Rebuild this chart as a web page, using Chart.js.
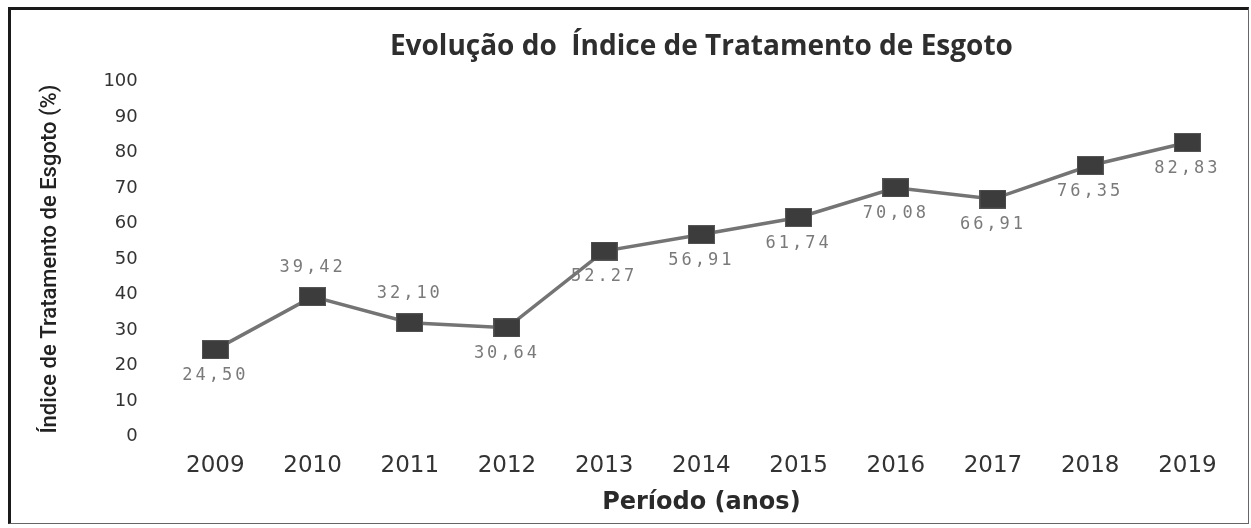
<!DOCTYPE html>
<html>
<head>
<meta charset="utf-8">
<script src="https://cdn.jsdelivr.net/npm/chart.js@4/dist/chart.umd.min.js"></script>
<style>
  body { margin: 0; background: #fff; }
  #wrap { position: relative; width: 1251px; height: 528px; }
  #moldura {
    position: absolute; left: 8px; top: 7px; width: 1237px; height: 513px;
    border-left: 3px solid #1a1a1a; border-top: 3px solid #1a1a1a;
    border-right: 1px solid #666; border-bottom: 1px solid #666;
    pointer-events: none;
  }
</style>
</head>
<body>
<div id="wrap">
  <canvas id="grafico" width="1251" height="528"></canvas>
  <div id="moldura"></div>
</div>
<script>
// dados
const anos = ['2009', '2010', '2011', '2012', '2013', '2014', '2015', '2016', '2017', '2018', '2019'];
const indice = [24.50, 39.42, 32.10, 30.64, 52.27, 56.91, 61.74, 70.08, 66.91, 76.35, 82.83];
const rotulos = ['24,50', '39,42', '32,10', '30,64', '52.27', '56,91', '61,74', '70,08', '66,91', '76,35', '82,83'];
const ticksY = [0, 10, 20, 30, 40, 50, 60, 70, 80, 90, 100];

// onde fica cada rótulo (em cima ou embaixo do ponto)
const lado = ['baixo', 'cima', 'cima', 'baixo', 'baixo', 'baixo', 'baixo', 'baixo', 'baixo', 'baixo', 'baixo'];

// marcador retangular (mais largo que alto, como no original)
const marcador = document.createElement('canvas');
marcador.width = 27;
marcador.height = 19;
const mctx = marcador.getContext('2d');
mctx.fillStyle = '#3c3c3c';
mctx.fillRect(0, 0, 27, 19);
mctx.strokeStyle = '#555';
mctx.lineWidth = 1;
mctx.strokeRect(0.5, 0.5, 26, 18);

// plugin simples para escrever os valores perto dos pontos
const rotuloPlugin = {
    id: 'rotulos',
    afterDatasetsDraw(chart) {
        const ctx = chart.ctx;
        const meta = chart.getDatasetMeta(0);
        ctx.save();
        ctx.font = '17px "DejaVu Sans Mono"';
        ctx.letterSpacing = '3px';
        ctx.fillStyle = '#7a7a7a';
        ctx.textAlign = 'center';
        ctx.textBaseline = 'middle';
        meta.data.forEach((pt, i) => {
            const dy = lado[i] === 'cima' ? -29 : 26;
            ctx.fillText(rotulos[i], pt.x, pt.y + dy);
        });
        ctx.restore();
    }
};

const ctx = document.getElementById('grafico').getContext('2d');

const grafico = new Chart(ctx, {
    type: 'line',
    data: {
        labels: anos,
        datasets: [{
            data: indice,
            borderColor: '#747474',
            borderWidth: 3.5,
            pointStyle: marcador,
            pointRadius: 11,
            tension: 0
        }]
    },
    plugins: [rotuloPlugin],
    options: {
        responsive: false,
        animation: false,
        layout: { padding: { left: 33, right: 15, top: 30, bottom: 9 } },
        plugins: {
            legend: { display: false },
            tooltip: { enabled: false },
            title: {
                display: true,
                fullSize: false,
                text: 'Evolução do  Índice de Tratamento de Esgoto',
                color: '#2e2e2e',
                font: { family: '"Open Sans"', size: 28, weight: 'bold' },
                padding: { top: 0, bottom: 18 }
            }
        },
        scales: {
            x: {
                offset: true,
                grid: { display: false },
                border: { display: false },
                ticks: { color: '#333', font: { family: '"DejaVu Sans"', size: 23 }, padding: 8 },
                title: {
                    display: true,
                    text: 'Período (anos)',
                    color: '#2a2a2a',
                    font: { family: '"DejaVu Sans"', size: 24, weight: 'bold' },
                    padding: { top: 0, bottom: 2 }
                }
            },
            y: {
                min: 0,
                max: 100,
                afterBuildTicks: (eixo) => { eixo.ticks = ticksY.map(v => ({ value: v })); },
                grid: { display: false },
                border: { display: false },
                ticks: { color: '#333', font: { family: '"DejaVu Sans"', size: 18 }, padding: 21 },
                title: {
                    display: true,
                    text: 'Índice de Tratamento de Esgoto (%)',
                    color: '#222',
                    font: { family: 'Roboto', size: 22, weight: '500' },
                    padding: { bottom: 19 }
                }
            }
        }
    }
});
</script>
</body>
</html>
